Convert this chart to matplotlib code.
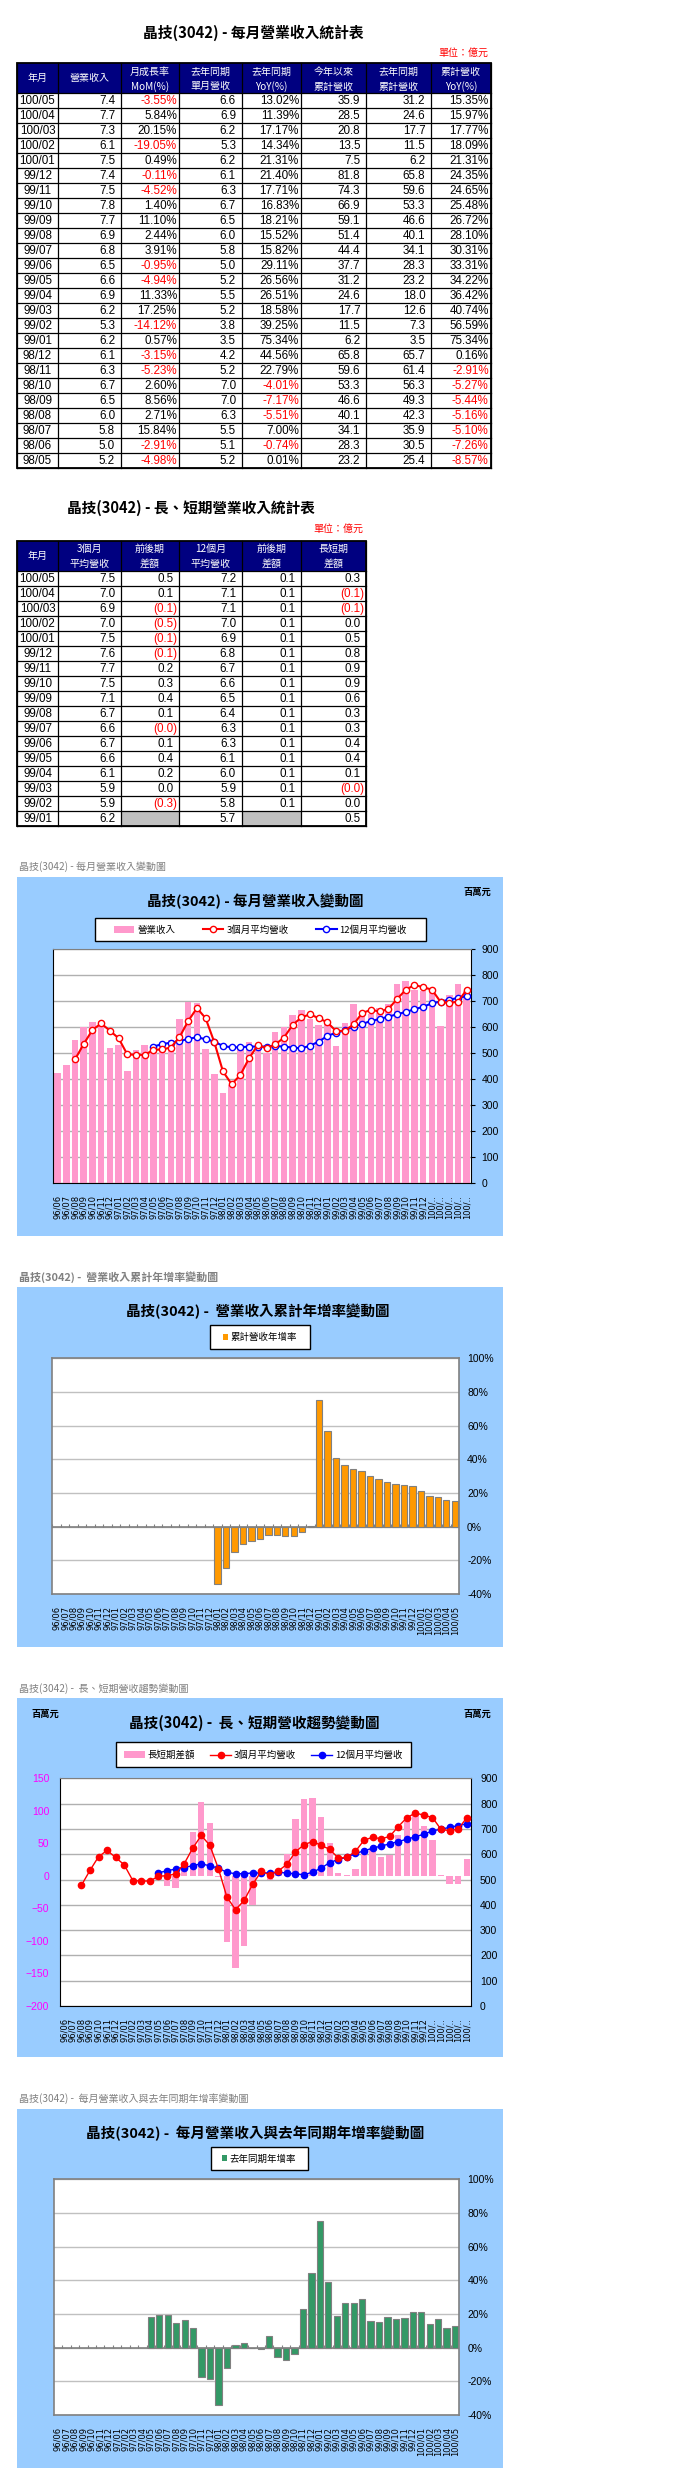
import matplotlib
matplotlib.use('Agg')
import matplotlib.pyplot as plt
from matplotlib.patches import Rectangle, Patch
from matplotlib.lines import Line2D
import numpy as np

CJK = ['Noto Sans CJK TC', 'DejaVu Sans']
NUM = ['Liberation Sans Narrow', 'Liberation Sans', 'DejaVu Sans']
plt.rcParams['font.family'] = CJK

NAVY = '#000080'
SKY = '#99CCFF'
PINK = '#FF99CC'

# ---- table 1: 每月營業收入統計表 (億元) ----
t1_months = ['100/05', '100/04', '100/03', '100/02', '100/01', '99/12', '99/11', '99/10',
             '99/09', '99/08', '99/07', '99/06', '99/05', '99/04', '99/03', '99/02', '99/01',
             '98/12', '98/11', '98/10', '98/09', '98/08', '98/07', '98/06', '98/05']
t1_rev = [7.4, 7.7, 7.3, 6.1, 7.5, 7.4, 7.5, 7.8, 7.7, 6.9, 6.8, 6.5, 6.6, 6.9, 6.2, 5.3, 6.2,
          6.1, 6.3, 6.7, 6.5, 6.0, 5.8, 5.0, 5.2]
t1_mom = [-3.55, 5.84, 20.15, -19.05, 0.49, -0.11, -4.52, 1.40, 11.10, 2.44, 3.91, -0.95, -4.94,
          11.33, 17.25, -14.12, 0.57, -3.15, -5.23, 2.60, 8.56, 2.71, 15.84, -2.91, -4.98]
t1_last = [6.6, 6.9, 6.2, 5.3, 6.2, 6.1, 6.3, 6.7, 6.5, 6.0, 5.8, 5.0, 5.2, 5.5, 5.2, 3.8, 3.5,
           4.2, 5.2, 7.0, 7.0, 6.3, 5.5, 5.1, 5.2]
t1_yoy = [13.02, 11.39, 17.17, 14.34, 21.31, 21.40, 17.71, 16.83, 18.21, 15.52, 15.82, 29.11,
          26.56, 26.51, 18.58, 39.25, 75.34, 44.56, 22.79, -4.01, -7.17, -5.51, 7.00, -0.74, 0.01]
t1_ytd = [35.9, 28.5, 20.8, 13.5, 7.5, 81.8, 74.3, 66.9, 59.1, 51.4, 44.4, 37.7, 31.2, 24.6,
          17.7, 11.5, 6.2, 65.8, 59.6, 53.3, 46.6, 40.1, 34.1, 28.3, 23.2]
t1_ytd_last = [31.2, 24.6, 17.7, 11.5, 6.2, 65.8, 59.6, 53.3, 46.6, 40.1, 34.1, 28.3, 23.2, 18.0,
               12.6, 7.3, 3.5, 65.7, 61.4, 56.3, 49.3, 42.3, 35.9, 30.5, 25.4]
t1_ytd_yoy = [15.35, 15.97, 17.77, 18.09, 21.31, 24.35, 24.65, 25.48, 26.72, 28.10, 30.31, 33.31,
              34.22, 36.42, 40.74, 56.59, 75.34, 0.16, -2.91, -5.27, -5.44, -5.16, -5.10, -7.26,
              -8.57]
t1_headers = ['年月', '營業收入', '月成長率\nMoM(%)', '去年同期\n單月營收', '去年同期\nYoY(%)',
              '今年以來\n累計營收', '去年同期\n累計營收', '累計營收\nYoY(%)']

# ---- table 2: 長、短期營業收入統計表 (億元) ----
t2_months = ['100/05', '100/04', '100/03', '100/02', '100/01', '99/12', '99/11', '99/10',
             '99/09', '99/08', '99/07', '99/06', '99/05', '99/04', '99/03', '99/02', '99/01']
t2_avg3 = [7.5, 7.0, 6.9, 7.0, 7.5, 7.6, 7.7, 7.5, 7.1, 6.7, 6.6, 6.7, 6.6, 6.1, 5.9, 5.9, 6.2]
t2_avg3_diff = [0.5, 0.1, -0.1, -0.5, -0.1, -0.1, 0.2, 0.3, 0.4, 0.1, -0.04, 0.1, 0.4, 0.2, 0.0,
                -0.3, None]
t2_avg12 = [7.2, 7.1, 7.1, 7.0, 6.9, 6.8, 6.7, 6.6, 6.5, 6.4, 6.3, 6.3, 6.1, 6.0, 5.9, 5.8, 5.7]
t2_avg12_diff = [0.1, 0.1, 0.1, 0.1, 0.1, 0.1, 0.1, 0.1, 0.1, 0.1, 0.1, 0.1, 0.1, 0.1, 0.1, 0.1,
                 None]
t2_gap = [0.3, -0.1, -0.1, 0.0, 0.5, 0.8, 0.9, 0.9, 0.6, 0.3, 0.3, 0.4, 0.4, 0.1, -0.04, 0.0, 0.5]
t2_headers = ['年月', '3個月\n平均營收', '前後期\n差額', '12個月\n平均營收', '前後期\n差額', '長短期\n差額']

# ---- charts: 96/06 .. 100/05 (百萬元 / %) ----
months = ([f'96/{m:02d}' for m in range(6, 13)] + [f'97/{m:02d}' for m in range(1, 13)] +
          [f'98/{m:02d}' for m in range(1, 13)] + [f'99/{m:02d}' for m in range(1, 13)] +
          [f'100/{m:02d}' for m in range(1, 6)])
months_cut = [m if not m.startswith('100') else '100/..' for m in months]

revenue = [425, 455, 551, 600, 620, 625, 520,
           532, 432, 513, 532, 520, 510, 550, 632, 699, 695, 515, 420,
           346, 378, 520, 545, 520, 500, 582, 600, 647, 667, 630, 609,
           617, 528, 615, 690, 660, 650, 673, 688, 767, 778, 744, 740,
           750, 605, 724, 767, 740]
avg3 = [None, None, 477, 536, 590, 615, 587,
        558, 496, 494, 494, 513, 515, 522, 562, 624, 674, 635, 543,
        430, 381, 417, 481, 532, 519, 534, 560, 609, 638, 650, 635,
        619, 585, 587, 611, 655, 667, 661, 670, 709, 744, 763, 754,
        745, 698, 693, 699, 744]
avg12 = [None, None, None, None, None, None, None,
         None, None, None, None, 526, 535, 541, 547, 555, 562, 554, 545,
         528, 523, 523, 526, 526, 526, 528, 526, 522, 519, 529, 545,
         567, 579, 588, 603, 613, 624, 632, 641, 650, 659, 669, 679,
         692, 699, 706, 713, 720]
gap = [None, None, None, None, None, None, None,
       None, None, None, None, -6, -16, -19, 15, 68, 113, 82, -2,
       -101, -141, -108, -45, 1, -7, 3, 34, 87, 118, 120, 90,
       51, 4, 1, 11, 37, 41, 29, 32, 63, 86, 96, 77,
       55, 2, -13, -13, 26]
ytd_yoy = [None, None, None, None, None, None, None,
           None, None, None, None, None, None, None, None, None, None, None, None,
           -34.0, -24.8, -15.3, -10.4, -8.57, -7.26, -5.10, -5.16, -5.44, -5.27, -2.91, 0.16,
           75.34, 56.59, 40.74, 36.42, 34.22, 33.31, 30.31, 28.10, 26.72, 25.48, 24.65, 24.35,
           21.31, 18.09, 17.77, 15.97, 15.35]
mon_yoy = [None, None, None, None, None, None, None,
           None, None, None, None, 18.4, 19.2, 19.2, 14.9, 16.2, 11.5, -17.6, -18.8,
           -34.0, -12.3, 1.4, 2.6, 0.01, -0.74, 7.00, -5.51, -7.17, -4.01, 22.79, 44.56,
           75.34, 39.25, 18.58, 26.51, 26.56, 29.11, 15.82, 15.52, 18.21, 16.83, 17.71, 21.40,
           21.31, 14.34, 17.17, 11.39, 13.02]

W, H = 676, 2491
fig = plt.figure(figsize=(W / 100, H / 100), dpi=100)
bg = fig.add_axes([0, 0, 1, 1])
bg.set_xlim(0, W)
bg.set_ylim(H, 0)
bg.axis('off')
renderer = fig.canvas.get_renderer()


def px_axes(x0, y0, x1, y1):
    return fig.add_axes([x0 / W, 1 - y1 / H, (x1 - x0) / W, (y1 - y0) / H])


def fig_pt(x, y):
    return (x / W, 1 - y / H)


def fit_text(t, width):
    # scale the font so the text spans the width measured on the reference
    w = t.get_window_extent(renderer).width
    t.set_fontsize(t.get_fontsize() * width / w)
    return t


def num_cell(v):
    if v is None:
        return None
    if v < 0:
        return (f'({abs(v):.1f})', 'red', 2)
    return (f'{v:.1f}', 'black', 5.7)


def pct_cell(v):
    return (f'{v:.2f}%', 'red' if v < 0 else 'black', 2)


def draw_table(col_x, top, head_h, row_h, headers, cells):
    x0, x1 = col_x[0], col_x[-1]
    bottom = top + head_h + len(cells) * row_h
    bg.add_patch(Rectangle((x0, top), x1 - x0, head_h, color=NAVY, lw=0))
    for j, h in enumerate(headers):
        cx = (col_x[j] + col_x[j + 1]) / 2
        parts = h.split('\n')
        if len(parts) == 1:
            bg.text(cx, top + head_h / 2, h, color='white', fontsize=7.2,
                    ha='center', va='center')
        else:
            for k, p in enumerate(parts):
                bg.text(cx, top + head_h * (0.29 + 0.49 * k), p, color='white',
                        fontsize=7.2, ha='center', va='center')
    for i, row in enumerate(cells):
        yc = top + head_h + (i + 0.5) * row_h
        for j, cell in enumerate(row):
            if cell is None:
                bg.add_patch(Rectangle((col_x[j], yc - row_h / 2), col_x[j + 1] - col_x[j],
                                       row_h, color='#C0C0C0', lw=0))
                continue
            text, color, pad = cell
            if pad is None:
                bg.text((col_x[j] + col_x[j + 1]) / 2, yc + 0.5, text, color=color,
                        fontsize=8.4, family=NUM, ha='center', va='center')
            else:
                bg.text(col_x[j + 1] - pad, yc + 0.5, text, color=color, fontsize=8.4,
                        family=NUM, ha='right', va='center')
    for xx in col_x:
        bg.plot([xx, xx], [top, bottom], color='black', lw=0.9)
    for i in range(len(cells) + 1):
        yy = top + head_h + i * row_h
        bg.plot([x0, x1], [yy, yy], color='black', lw=0.9)
    bg.add_patch(Rectangle((x0, top), x1 - x0, bottom - top, fill=False,
                           edgecolor='black', lw=1.3))


# ---------- table 1 ----------
fit_text(bg.text(253, 33, '晶技(3042) - 每月營業收入統計表', fontsize=11, fontweight='bold',
                 ha='center', va='center'), 220)
fit_text(bg.text(488, 53, '單位：億元', color='red', fontsize=7.2, ha='right', va='center'), 50)
t1_cols = [16.7, 58.3, 120.7, 179, 241.7, 301, 366, 431, 490.7]
t1_cells = []
for i, m in enumerate(t1_months):
    t1_cells.append([(m, 'black', None), num_cell(t1_rev[i]), pct_cell(t1_mom[i]),
                     num_cell(t1_last[i]), pct_cell(t1_yoy[i]), num_cell(t1_ytd[i]),
                     num_cell(t1_ytd_last[i]), pct_cell(t1_ytd_yoy[i])])
draw_table(t1_cols, 63, 30, 15, t1_headers, t1_cells)

# ---------- table 2 ----------
fit_text(bg.text(191, 508, '晶技(3042) - 長、短期營業收入統計表', fontsize=11, fontweight='bold',
                 ha='center', va='center'), 248)
fit_text(bg.text(363, 529, '單位：億元', color='red', fontsize=7.2, ha='right', va='center'), 50)
t2_cols = t1_cols[:7]
t2_cells = []
for i, m in enumerate(t2_months):
    t2_cells.append([(m, 'black', None), num_cell(t2_avg3[i]), num_cell(t2_avg3_diff[i]),
                     num_cell(t2_avg12[i]), num_cell(t2_avg12_diff[i]), num_cell(t2_gap[i])])
draw_table(t2_cols, 540.7, 30, 15, t2_headers, t2_cells)

x = np.arange(len(months))
rev_a = np.array(revenue, dtype=float)
avg3_a = np.array(avg3, dtype=float)
avg12_a = np.array(avg12, dtype=float)
gap_a = np.array(gap, dtype=float)
ytd_a = np.array(ytd_yoy, dtype=float)
mon_a = np.array(mon_yoy, dtype=float)


def chart_frame(y0, y1, caption, cap_w, title, title_x, title_y, title_w, bold_caption=False):
    fit_text(bg.text(19, y0 - 10, caption, color='#808080', fontsize=7.2, va='center',
                     fontweight='bold' if bold_caption else 'normal'), cap_w)
    bg.add_patch(Rectangle((16.7, y0), 486.6, y1 - y0, color=SKY, lw=0))
    fit_text(bg.text(title_x, title_y, title, fontsize=11, fontweight='bold',
                     ha='center', va='center'), title_w)


def unit_label(x_, y_, ha):
    fit_text(bg.text(x_, y_, '百萬元', fontsize=7, fontweight='bold', ha=ha, va='center'), 28)


def style_xaxis(ax, labels):
    ax.set_xlim(-0.5, len(labels) - 0.5)
    ax.set_xticks(x)
    ax.set_xticklabels(labels, rotation=90, fontsize=6, family='DejaVu Sans', va='top')
    ax.tick_params(axis='x', length=0, pad=8.5)


def make_legend(box, handles, labels, **kw):
    bx0, by0, bx1, by1 = box
    bg.add_patch(Rectangle((bx0, by0), bx1 - bx0, by1 - by0, facecolor='white',
                           edgecolor='black', lw=1.0))
    opts = dict(loc='center', bbox_to_anchor=fig_pt((bx0 + bx1) / 2, (by0 + by1) / 2 + 0.5),
                ncol=len(handles), frameon=False, fontsize=6.8, borderpad=0.2,
                handletextpad=0.3)
    opts.update(kw)
    return fig.legend(handles, labels, **opts)


# ---------- chart 1 ----------
chart_frame(876.7, 1236, '晶技(3042) - 每月營業收入變動圖', 147,
            '晶技(3042) - 每月營業收入變動圖', 255, 901.7, 216)
unit_label(491.7, 892.7, 'right')
ax1 = px_axes(53.3, 949.3, 471, 1183.3)
ax1.bar(x, rev_a, width=0.75, color=PINK, zorder=2)
ax1.plot(x, avg3_a, color='red', lw=1.5, marker='o', ms=4.5, mfc='white', mec='red',
         mew=1, zorder=4)
ax1.plot(x, avg12_a, color='blue', lw=1.5, marker='o', ms=4.5, mfc='white', mec='blue',
         mew=1, zorder=3)
ax1.set_ylim(0, 900)
ax1.set_yticks(range(0, 901, 100))
ax1.yaxis.tick_right()
ax1.tick_params(axis='y', length=3, pad=4.5, labelsize=7.5)
for lbl in ax1.get_yticklabels():
    lbl.set_family(NUM)
ax1.grid(axis='y', color='#B0B0B0', lw=1)
ax1.set_axisbelow(True)
ax1.spines['top'].set_color('#808080')
style_xaxis(ax1, months_cut)
make_legend((95, 917.7, 425.7, 941),
            [Patch(facecolor=PINK),
             Line2D([], [], color='red', lw=1.5, marker='o', ms=4.5, mfc='white'),
             Line2D([], [], color='blue', lw=1.5, marker='o', ms=4.5, mfc='white')],
            ['營業收入', '3個月平均營收', '12個月平均營收'],
            handlelength=2.2, handleheight=0.7, columnspacing=2.9)

# ---------- chart 2 ----------
chart_frame(1287.3, 1646.7, '晶技(3042) -  營業收入累計年增率變動圖', 199,
            '晶技(3042) -  營業收入累計年增率變動圖', 258, 1311.7, 264, bold_caption=True)


def pct_chart(ax, values, color):
    ax.bar(x, values, width=0.75, color=color, edgecolor='#808080', lw=0.8, zorder=3)
    ax.set_ylim(-40, 100)
    ticks = list(range(-40, 101, 20))
    ax.set_yticks(ticks)
    ax.set_yticklabels([f'{t}%' for t in ticks], family=NUM, fontsize=7.5)
    ax.yaxis.tick_right()
    ax.tick_params(axis='y', length=0, pad=5.8)
    ax.grid(axis='y', color='#C0C0C0', lw=1)
    ax.set_axisbelow(True)
    ax.axhline(0, color='#808080', lw=1.2, zorder=2)
    ax.vlines(np.arange(-0.5, len(months)), 0, 1.6, color='#808080', lw=0.8, zorder=2)
    for s in ax.spines.values():
        s.set_color('#808080')
        s.set_linewidth(1.2)
    style_xaxis(ax, months)


ax2 = px_axes(52.3, 1358.3, 459, 1594)
pct_chart(ax2, ytd_a, '#FF9900')
make_legend((210, 1325, 310, 1349.3), [Patch(facecolor='#FF9900')], ['累計營收年增率'],
            handlelength=0.55, handleheight=0.55)

# ---------- chart 3 ----------
chart_frame(1698.3, 2056.7, '晶技(3042) -  長、短期營收趨勢變動圖', 170,
            '晶技(3042) -  長、短期營收趨勢變動圖', 254, 1722.7, 250)
unit_label(31.7, 1714, 'left')
unit_label(491.7, 1714, 'right')
ax3 = px_axes(60, 1778.3, 471, 2006)
ax3.set_ylim(0, 900)
ax3.set_yticks(range(0, 901, 100))
ax3.grid(axis='y', color='#B0B0B0', lw=1)
ax3.spines['top'].set_color('#808080')
style_xaxis(ax3, months_cut)
ax3b = ax3.twinx()
ax3b.patch.set_visible(False)
ax3b.bar(x, gap_a, width=0.75, color=PINK)
ax3b.set_ylim(-200, 150)
ax3b.set_yticks(range(-200, 151, 50))
for s in ax3b.spines.values():
    s.set_visible(False)
ax3c = ax3.twinx()
ax3c.patch.set_visible(False)
ax3c.plot(x, avg3_a, color='red', lw=1, marker='o', ms=4.5, zorder=4)
ax3c.plot(x, avg12_a, color='blue', lw=1, marker='o', ms=4.5, zorder=3)
ax3c.set_ylim(0, 900)
ax3c.set_yticks([])
for s in ax3c.spines.values():
    s.set_visible(False)
# twinx moves the host ticks to the left, so place both sides after creating twins
ax3.yaxis.tick_right()
ax3.tick_params(axis='y', length=0, pad=6.5, labelsize=7.5)
for lbl in ax3.get_yticklabels():
    lbl.set_family(NUM)
ax3b.yaxis.set_ticks_position('left')
ax3b.tick_params(axis='y', length=0, pad=7.7, labelsize=7.5, labelcolor='#FF00FF')
for lbl in ax3b.get_yticklabels():
    lbl.set_family(NUM)
make_legend((115.7, 1742.3, 411, 1766.7),
            [Patch(facecolor=PINK),
             Line2D([], [], color='red', lw=1, marker='o', ms=4.5),
             Line2D([], [], color='blue', lw=1, marker='o', ms=4.5)],
            ['長短期差額', '3個月平均營收', '12個月平均營收'],
            handlelength=2.2, handleheight=0.7, columnspacing=1.6)

# ---------- chart 4 ----------
chart_frame(2109, 2467.7, '晶技(3042) -  每月營業收入與去年同期年增率變動圖', 230,
            '晶技(3042) -  每月營業收入與去年同期年增率變動圖', 255, 2133.3, 337)
ax4 = px_axes(53.7, 2179.3, 459.3, 2415)
pct_chart(ax4, mon_a, '#339966')
make_legend((210.7, 2146.7, 307.7, 2170.3), [Patch(facecolor='#339966')], ['去年同期年增率'],
            handlelength=0.55, handleheight=0.55)

fig.savefig('out.png', dpi=100)
